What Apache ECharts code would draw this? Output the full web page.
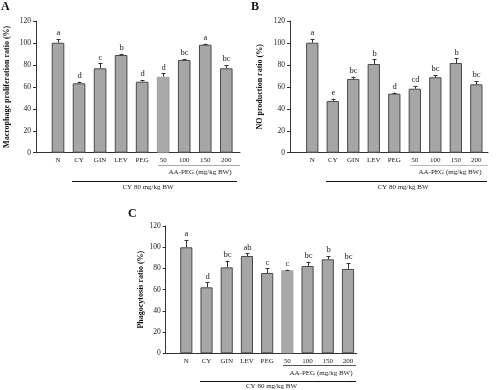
<!DOCTYPE html>
<html><head><meta charset="utf-8">
<script src="https://cdn.jsdelivr.net/npm/echarts@6/dist/echarts.min.js"></script>
<style>html,body{margin:0;padding:0;background:#fff}#c{width:500px;height:390px}</style>
</head><body><div id="c"></div>
<script>
const categories = ['N','CY','GIN','LEV','PEG','50','100','150','200'];
const yTickMin = 0, yTickMax = 120, yTickStep = 20;

const valuesA = [100.2, 63.2, 76.9, 89.0, 64.7, 69.2, 84.5, 98.4, 76.9];
const errorsA = [3.4, 1.5, 4.5, 1.0, 1.5, 3.0, 1.0, 1.0, 3.0];
const lettersA = ['a','d','c','b','d','d','bc','a','bc'];

const valuesB = [100.2, 47.1, 67.2, 80.8, 53.8, 58.3, 68.7, 81.7, 62.3];
const errorsB = [3.4, 2.0, 2.0, 4.2, 1.0, 2.5, 2.0, 4.3, 3.0];
const lettersB = ['a','e','bc','b','d','cd','bc','b','bc'];

const valuesC = [99.9, 62.2, 81.0, 91.7, 75.7, 78.2, 82.3, 88.6, 79.5];
const errorsC = [6.9, 4.7, 6.3, 2.5, 4.4, 0.6, 4.0, 3.1, 5.4];
const lettersC = ['a','d','bc','ab','c','c','bc','b','bc'];

const titles = ['Macrophage proliferation ratio (%)','NO production ratio (%)','Phagocytosis ratio (%)'];
const panelLetters = ['A','B','C'];
const aaText = 'AA-PEG (mg/kg BW)';
const cyText = 'CY 80 mg/kg BW';

const FONT = '"Liberation Serif", "DejaVu Serif", serif';
const chart = echarts.init(document.getElementById('c'), null, {renderer:'canvas'});

const frames = [
  {left:36, top:21, width:204, height:131.7, nameGap:25},
  {left:290, top:21, width:198, height:131.7, nameGap:26},
  {left:165.7, top:226, width:191, height:127.3, nameGap:21}
];
const barGrids = [
  {left:47.5, top:21, width:189.3, height:131.7},
  {left:302, top:21, width:184.6, height:131.7},
  {left:176.2, top:226, width:181.9, height:127.3}
];
const panels = [
  {v:valuesA, e:errorsA, l:lettersA, light:[5]},
  {v:valuesB, e:errorsB, l:lettersB, light:[]},
  {v:valuesC, e:errorsC, l:lettersC, light:[5]}
];

const grid = [], xAxis = [], yAxis = [], series = [];
panels.forEach((p, k) => {
  const f = frames[k], b = barGrids[k];
  grid.push({left:f.left, top:f.top, width:f.width, height:f.height, containLabel:false});
  grid.push({left:b.left, top:b.top, width:b.width, height:b.height, containLabel:false});
  const fi = 2*k, bi = 2*k+1;
  xAxis.push({gridIndex:fi, type:'value', min:0, max:1, axisLabel:{show:false}, axisTick:{show:false}, splitLine:{show:false}, axisLine:{lineStyle:{color:'#333', width:1}}});
  xAxis.push({gridIndex:bi, type:'category', data:categories, axisLine:{show:false}, axisTick:{show:false}, axisLabel:{interval:0, margin:4, fontFamily:FONT, fontSize:7, color:'#222'}});
  yAxis.push({gridIndex:fi, type:'value', min:yTickMin, max:yTickMax, interval:yTickStep, splitLine:{show:false},
    axisLine:{show:true, lineStyle:{color:'#333', width:1}}, axisTick:{show:true, length:3, lineStyle:{color:'#333'}},
    axisLabel:{fontFamily:FONT, fontSize:7.5, color:'#222', margin:5},
    name:titles[k], nameLocation:'middle', nameGap:f.nameGap, nameRotate:90,
    nameTextStyle:{fontFamily:FONT, fontSize:8, fontWeight:'bold', color:'#111'}});
  yAxis.push({gridIndex:bi, type:'value', min:yTickMin, max:yTickMax, show:false});
  series.push({type:'bar', xAxisIndex:bi, yAxisIndex:bi, barWidth:'60%', silent:true,
    data:p.v.map((v,i)=>({value:v, itemStyle: p.light.includes(i) ? {color:'#a9a9a9', borderColor:'#a0a0a0', borderWidth:1} : {color:'#a6a6a6', borderColor:'#4a4a4a', borderWidth:1}})),
    animation:false});
  series.push({type:'custom', xAxisIndex:bi, yAxisIndex:bi, silent:true, animation:false, z:5,
    data:p.v.map((v,i)=>[i, v, p.e[i]]),
    renderItem:function(params, api){
      const i = api.value(0), v = api.value(1), e = api.value(2);
      const top = api.coord([i, v]);
      const cap = api.coord([i, v+e]);
      const x = Math.round(top[0]) + 0.5;
      return {type:'group', children:[
        {type:'line', shape:{x1:x, y1:top[1], x2:x, y2:cap[1]}, style:{stroke:'#333', lineWidth:1}},
        {type:'line', shape:{x1:x-2, y1:Math.round(cap[1])+0.5, x2:x+2, y2:Math.round(cap[1])+0.5}, style:{stroke:'#333', lineWidth:1}},
        {type:'text', x:x, y:cap[1]-1.5, style:{text:p.l[i], fontFamily:FONT, fontSize:8.5, fill:'#222', align:'center', verticalAlign:'bottom'}}
      ]};
    }});
});

const graphic = [
  {type:'text', left:1, top:1, style:{text:'A', font:'bold 12px '+FONT, fill:'#111'}},
  {type:'text', left:251, top:1, style:{text:'B', font:'bold 12px '+FONT, fill:'#111'}},
  {type:'text', left:128, top:208, style:{text:'C', font:'bold 12px '+FONT, fill:'#111'}},
  // Panel A annotations
  {type:'line', shape:{x1:158, y1:165.5, x2:240, y2:165.5}, style:{stroke:'#aaa', lineWidth:1}},
  {type:'text', x:200, y:172.5, style:{text:aaText, font:'7px '+FONT, fill:'#222', align:'center', verticalAlign:'middle'}},
  {type:'line', shape:{x1:72, y1:181.5, x2:237, y2:181.5}, style:{stroke:'#111', lineWidth:1}},
  {type:'text', x:148, y:187, style:{text:cyText, font:'7px '+FONT, fill:'#222', align:'center', verticalAlign:'middle'}},
  // Panel B annotations
  {type:'line', shape:{x1:410, y1:165.5, x2:488, y2:165.5}, style:{stroke:'#bbb', lineWidth:1}},
  {type:'text', x:450, y:172.5, style:{text:aaText, font:'7px '+FONT, fill:'#222', align:'center', verticalAlign:'middle'}},
  {type:'line', shape:{x1:326, y1:181.5, x2:487, y2:181.5}, style:{stroke:'#111', lineWidth:1}},
  {type:'text', x:403, y:187, style:{text:cyText, font:'7px '+FONT, fill:'#222', align:'center', verticalAlign:'middle'}},
  // Panel C annotations
  {type:'line', shape:{x1:283, y1:365.5, x2:356, y2:365.5}, style:{stroke:'#555', lineWidth:1}},
  {type:'text', x:321, y:373, style:{text:aaText, font:'7px '+FONT, fill:'#222', align:'center', verticalAlign:'middle'}},
  {type:'line', shape:{x1:200, y1:381.5, x2:356, y2:381.5}, style:{stroke:'#111', lineWidth:1}},
  {type:'text', x:271.5, y:386.5, style:{text:cyText, font:'7px '+FONT, fill:'#222', align:'center', verticalAlign:'middle'}}
];

chart.setOption({backgroundColor:'#fff', animation:false, grid, xAxis, yAxis, series, graphic});
</script></body></html>
